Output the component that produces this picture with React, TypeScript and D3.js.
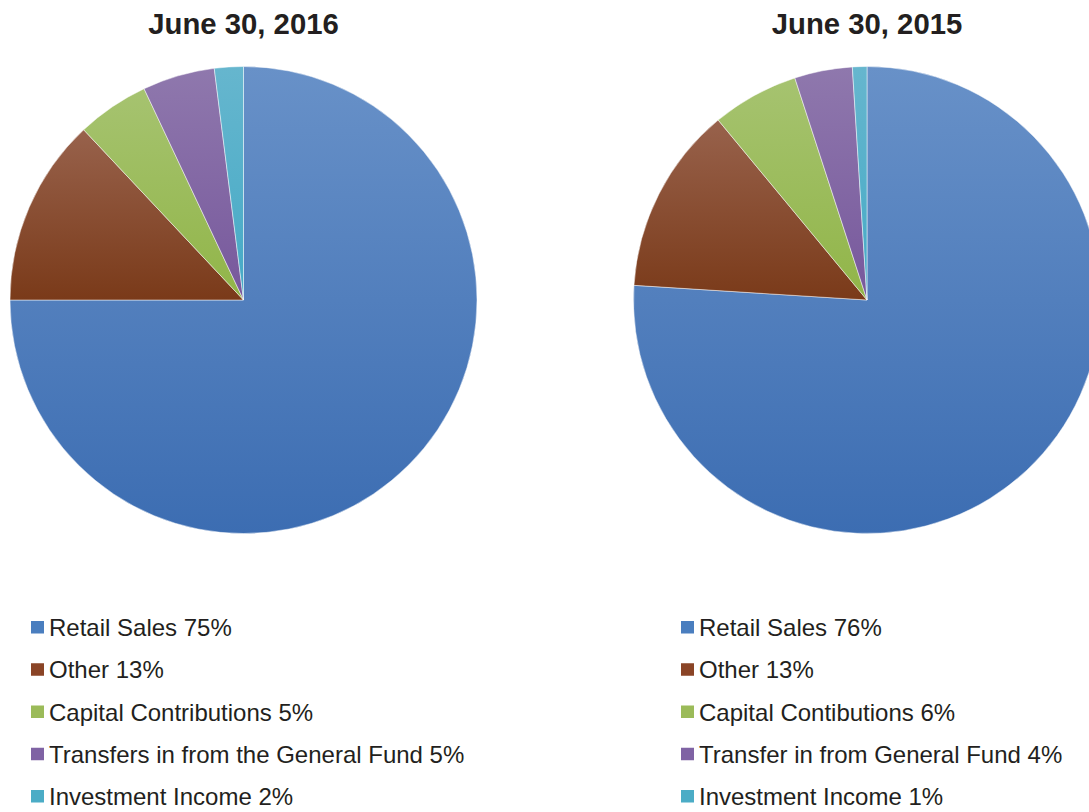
import React from "react";
import * as d3 from "d3";

const categories2016 = ["Retail Sales", "Other", "Capital Contributions", "Transfers in from the General Fund", "Investment Income"];
const values2016 = [75, 13, 5, 5, 2];
const categories2015 = ["Retail Sales", "Other", "Capital Contibutions", "Transfer in from General Fund", "Investment Income"];
const values2015 = [76, 13, 6, 4, 1];
const titles = ["June 30, 2016", "June 30, 2015"];

const colorTop = ["#6891c8", "#98624c", "#a6c370", "#8f78ad", "#66b6ce"];
const colorBottom = ["#3c6db2", "#7a3a19", "#91b548", "#77589c", "#45aac6"];
const legendColors = ["#4a7ebf", "#8a4426", "#9bbb59", "#7f63a4", "#4bacc6"];

const W = 1089;
const H = 812;
const R = 233.5;
const centers = [243.5, 867];
const cy = 300;

function Pie({ idx, cats, vals }: { idx: number; cats: string[]; vals: number[] }) {
  const pie = d3.pie<number>().sort(null).value((d) => d);
  const arcs = pie(vals);
  const arc = d3.arc<d3.PieArcDatum<number>>().innerRadius(0).outerRadius(R);
  const cx = centers[idx];
  const legendX = idx === 0 ? 31 : 681;
  const rowY = d3.scaleLinear().domain([0, 4]).range([636, 805]);
  return (
    <g>
      <text x={cx} y={34} textAnchor="middle" fontFamily="Liberation Sans, Arial, sans-serif" fontWeight="bold" fontSize={29.3} fill="#231f20">
        {titles[idx]}
      </text>
      <g transform={`translate(${cx},${cy})`}>
        {arcs.map((a, i) => (
          <path key={i} d={arc(a) || ""} fill={`url(#g${i})`} stroke="#ffffff" strokeOpacity={0.6} strokeWidth={0.8} />
        ))}
      </g>
      {cats.map((c, i) => (
        <g key={i}>
          <rect x={legendX} y={rowY(i) - 15} width={13} height={12.5} fill={legendColors[i]} />
          <text x={legendX + 18} y={rowY(i)} fontFamily="Liberation Sans, Arial, sans-serif" fontSize={24} fill="#231f20">
            {`${c} ${vals[i]}%`}
          </text>
        </g>
      ))}
    </g>
  );
}

export default function App() {
  return (
    <svg width={W} height={H} style={{ position: "absolute", left: 0, top: 0, background: "#fff" }}>
      <defs>
        {colorTop.map((c, i) => (
          <linearGradient key={i} id={`g${i}`} x1="0" y1="0" x2="0" y2="1">
            <stop offset="0" stopColor={c} />
            <stop offset="1" stopColor={colorBottom[i]} />
          </linearGradient>
        ))}
      </defs>
      <Pie idx={0} cats={categories2016} vals={values2016} />
      <Pie idx={1} cats={categories2015} vals={values2015} />
    </svg>
  );
}
